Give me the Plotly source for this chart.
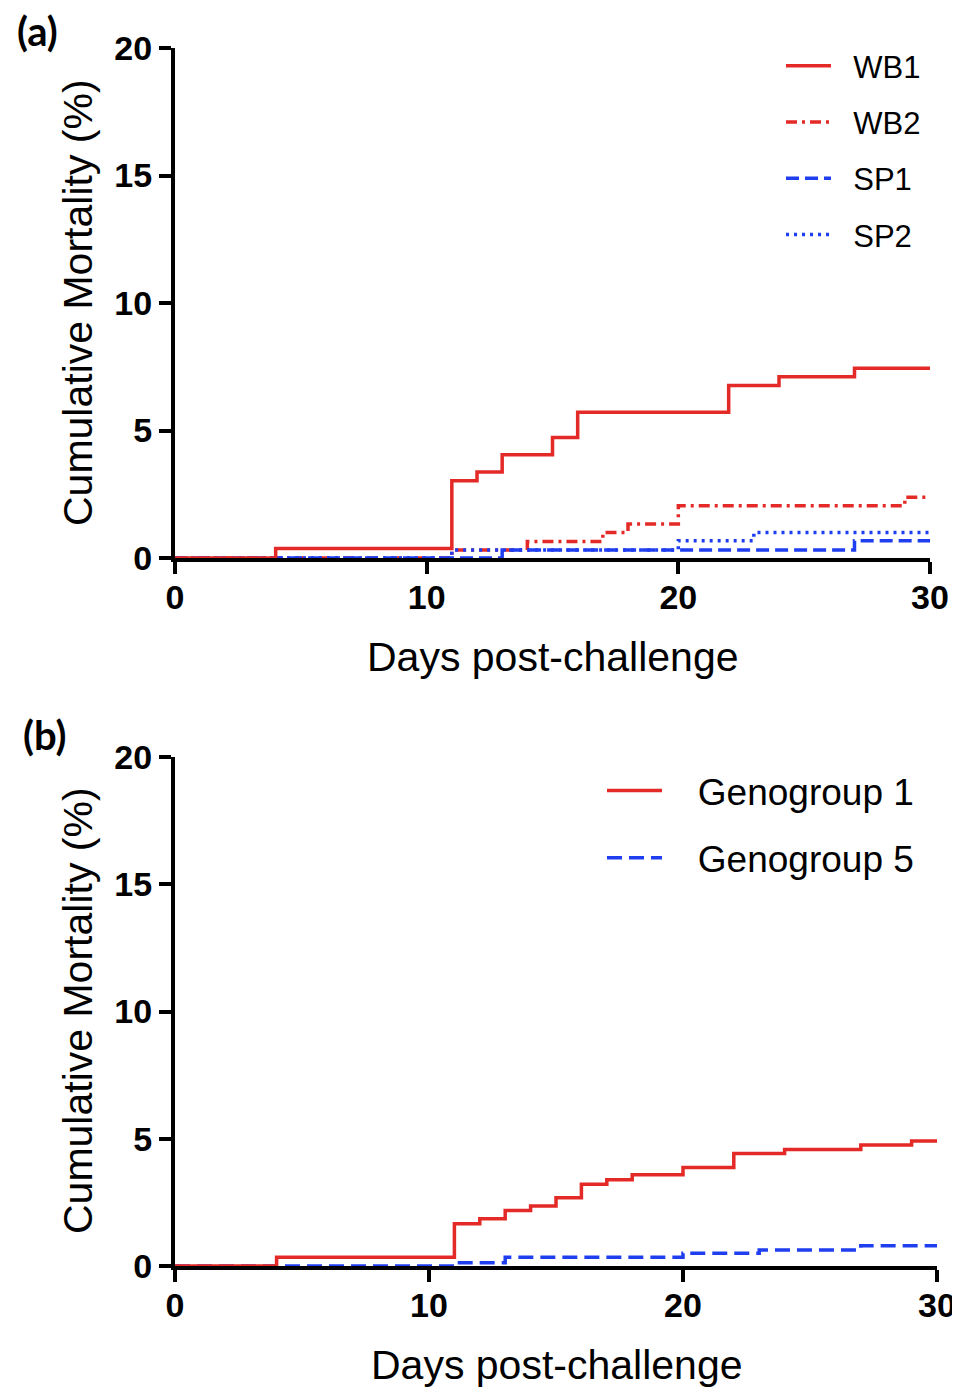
import plotly.graph_objects as go

# ---------------- data ----------------
# Panel (a)
wb1_days = [0, 4, 11, 12, 13, 15, 16, 22, 24, 27, 30]
wb1_vals = [0, 0.37, 3.03, 3.37, 4.05, 4.73, 5.72, 6.76, 7.11, 7.44, 7.44]
wb2_days = [0, 11, 14, 17, 18, 20, 29, 30]
wb2_vals = [0, 0.31, 0.65, 1.0, 1.33, 2.05, 2.38, 2.38]
sp1_days = [0, 13, 27, 30]
sp1_vals = [0, 0.31, 0.68, 0.68]
sp2_days = [0, 11, 20, 23, 30]
sp2_vals = [0, 0.31, 0.68, 1.0, 1.0]

# Panel (b)
g1_days = [0, 4, 11, 12, 13, 14, 15, 16, 17, 18, 20, 22, 24, 27, 29, 30]
g1_vals = [0, 0.34, 1.66, 1.86, 2.18, 2.36, 2.68, 3.21, 3.39, 3.59, 3.87, 4.42, 4.58, 4.75, 4.91, 4.91]
g5_days = [0, 11, 13, 20, 23, 27, 30]
g5_vals = [0, 0.13, 0.34, 0.5, 0.63, 0.8, 0.8]

x_ticks = [0, 10, 20, 30]
y_ticks = [0, 5, 10, 15, 20]
x_title = "Days post-challenge"
y_title = "Cumulative Mortality (%)"

RED = "#E32A26"
BLUE = "#1F3EF0"
FONT = "Arial, Liberation Sans, sans-serif"

# page has an 8px body margin; size the figure so it fits the 960x1390 window
OFF = 8
W, H = 960 - OFF, 1390 - OFF


def fx(px):
    return (px - OFF) / W


def fy(py):
    return 1 - (py - OFF) / H


fig = go.Figure()


def add(x, y, name, color, dash, width, xa, ya, legend, rank, pad):
    fig.add_trace(go.Scatter(
        x=x, y=y, name=pad + name, mode="lines", line_shape="hv",
        line=dict(color=color, dash=dash, width=width),
        xaxis=xa, yaxis=ya, legend=legend, legendgroup=name, legendrank=rank,
    ))


PA = "\u00a0\u00a0"
PB = "\u00a0\u00a0\u00a0"
# drawing order bottom -> top
add(wb2_days, wb2_vals, "WB2", RED, "11px,5px,3px,5px", 3.5, "x", "y", "legend", 2, PA)
add(sp2_days, sp2_vals, "SP2", BLUE, "3px,5px", 3.5, "x", "y", "legend", 4, PA)
add(sp1_days, sp1_vals, "SP1", BLUE, "13px,6px", 3.5, "x", "y", "legend", 3, PA)
add(wb1_days, wb1_vals, "WB1", RED, "solid", 3.5, "x", "y", "legend", 1, PA)
add(g5_days, g5_vals, "Genogroup 5", BLUE, "15px,7px", 3.5, "x2", "y2", "legend2", 2, PB)
add(g1_days, g1_vals, "Genogroup 1", RED, "solid", 3.5, "x2", "y2", "legend2", 1, PB)

axis_common = dict(
    showline=True, linewidth=4, linecolor="black", ticks="outside",
    ticklen=12, tickwidth=4, tickcolor="black", showgrid=False, zeroline=False,
    automargin=False,
    tickfont=dict(family=FONT, size=34, color="black", weight="bold"),
)

fig.update_layout(
    template="none",
    width=W, height=H, margin=dict(l=0, r=0, t=0, b=0, pad=0),
    paper_bgcolor="white", plot_bgcolor="white",
    font=dict(family=FONT, color="black"),
    xaxis=dict(domain=[fx(175), fx(930)], anchor="y", range=[0, 30],
               tickvals=x_ticks, ticklabelstandoff=-6, **axis_common),
    yaxis=dict(domain=[fy(558), fy(48)], anchor="x", range=[0, 20],
               tickvals=y_ticks, ticklabelstandoff=0, **axis_common),
    xaxis2=dict(domain=[fx(175), fx(937)], anchor="y2", range=[0, 30],
                tickvals=x_ticks, ticklabelstandoff=-6, **axis_common),
    yaxis2=dict(domain=[fy(1266), fy(757)], anchor="x2", range=[0, 20],
                tickvals=y_ticks, ticklabelstandoff=0, **axis_common),
    legend=dict(x=fx(781), y=fy(39), xanchor="left", yanchor="top",
                xref="paper", yref="paper", bgcolor="rgba(0,0,0,0)",
                font=dict(family=FONT, size=31, color="black"),
                itemwidth=45, traceorder="grouped", tracegroupgap=13),
    legend2=dict(x=fx(602), y=fy(760), xanchor="left", yanchor="top",
                 xref="paper", yref="paper", bgcolor="rgba(0,0,0,0)",
                 font=dict(family=FONT, size=37, color="black"),
                 itemwidth=55, traceorder="grouped", tracegroupgap=16),
    showlegend=True,
)


def note(text, x, y, size, angle=0, family=FONT):
    return dict(text=text, x=fx(x), y=fy(y), xref="paper", yref="paper",
                xanchor="center", yanchor="middle", showarrow=False,
                textangle=angle, font=dict(size=size, family=family, color="black"))


ann = [
    note(x_title, 552, 657, 41),
    note(x_title, 556, 1365, 41),
    note(y_title, 78, 303, 41, -90),
    note(y_title, 78, 1011, 41, -90),
    note("<b>(a)</b>", 37, 31, 40, 0, "Lato, Open Sans, sans-serif"),
    note("<b>(b)</b>", 45, 735, 40, 0, "Lato, Open Sans, sans-serif"),
]
fig.update_layout(annotations=ann)

fig.write_html("out.html")
